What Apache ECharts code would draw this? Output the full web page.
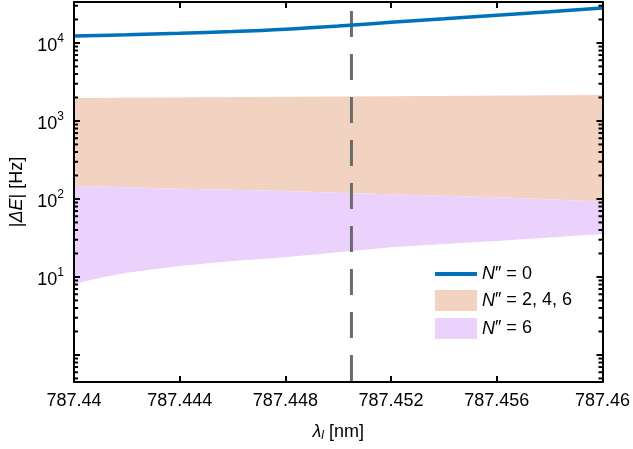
<!DOCTYPE html>
<html>
<head>
<meta charset="utf-8">
<script src="https://cdn.jsdelivr.net/npm/echarts@6/dist/echarts.min.js"></script>
<style>
  html, body { margin: 0; padding: 0; background: #fff; }
  #chart { width: 633px; height: 449px; }
</style>
</head>
<body>
<div id="chart"></div>
<script>
// wavelength axis (nm)
var xMin = 787.44, xMax = 787.46, xStep = 0.004;
var yMin = 0.45, yMax = 33500;

// N'' = 0 line
var lineX = [787.44, 787.442, 787.444, 787.446, 787.448, 787.450, 787.452, 787.454, 787.456, 787.458, 787.46];
var lineY = [12300, 12750, 13300, 14000, 15000, 16500, 18400, 20400, 22700, 25200, 28100];

// N'' = 2, 4, 6 band (upper edge)
var orangeX = [787.44, 787.45, 787.46];
var orangeTop = [1970, 2060, 2155];

// N'' = 6 band
var purpleX = [787.44, 787.441, 787.442, 787.444, 787.446, 787.448, 787.450, 787.452, 787.454, 787.456, 787.458, 787.46];
var purpleTop = [147, 144, 141, 135.5, 131, 126.6, 120, 114.8, 110, 105, 99, 92.3];
var purpleBottom = [8.1, 9.8, 11.3, 13.8, 16.0, 17.9, 20.8, 24, 26.5, 28.9, 32, 35.6];

// vertical marker
var markerX = 787.4505;

var seriesNames = ["N\u2033 = 0", "N\u2033 = 2, 4, 6", "N\u2033 = 6"];

var fontFam = "Liberation Sans, Arial, Helvetica, sans-serif";

// log minor tick positions (2..9 x 10^k)
var minorVals = [];
for (var k = -1; k <= 4; k++) {
    for (var m = 2; m <= 9; m++) {
        var v = m * Math.pow(10, k);
        if (v > yMin && v < yMax) minorVals.push(v);
    }
}

function bandRenderer(upX, upY, lowX, lowY, color) {
    return function (params, api) {
        if (params.dataIndex !== 0) return null;
        var pts = [];
        for (var i = 0; i < upX.length; i++) pts.push(api.coord([upX[i], upY[i]]));
        for (var j = lowX.length - 1; j >= 0; j--) pts.push(api.coord([lowX[j], lowY[j]]));
        return { type: "polygon", shape: { points: pts }, style: { fill: color } };
    };
}

function renderMinor(params, api) {
    var cs = params.coordSys;
    var y = api.coord([xMin, api.value(1)])[1];
    return {
        type: "group",
        children: [
            { type: "line", shape: { x1: cs.x, y1: y, x2: cs.x + 4, y2: y }, style: { stroke: "#000", lineWidth: 2 } },
            { type: "line", shape: { x1: cs.x + cs.width, y1: y, x2: cs.x + cs.width - 4, y2: y }, style: { stroke: "#000", lineWidth: 2 } }
        ]
    };
}

function yLabel(v) {
    var p = Math.log10(v);
    var r = Math.round(p);
    if (Math.abs(p - r) > 1e-6 || r < 1 || r > 4) return "";
    return "{b|10}{s|" + r + "}";
}

var chart = echarts.init(document.getElementById("chart"));

var axisCommon = {
    axisLine: { show: true, onZero: false, lineStyle: { color: "#000", width: 2 } },
    axisTick: { show: true, inside: true, length: 6, lineStyle: { color: "#000", width: 2 } },
    splitLine: { show: false },
    z: 10
};

var option = {
    animation: false,
    backgroundColor: "#fff",
    textStyle: { fontFamily: fontFam },
    grid: { left: 68, right: 29, top: 2, bottom: 67 },
    legend: {
        left: 428,
        top: 260,
        orient: "vertical",
        itemWidth: 42,
        itemHeight: 21,
        itemGap: 7,
        data: [
            { name: seriesNames[0], itemStyle: { color: "rgba(0,0,0,0)", borderWidth: 0 }, lineStyle: { width: 4 } },
            { name: seriesNames[1], icon: "rect" },
            { name: seriesNames[2], icon: "rect" }
        ],
        formatter: function (name) {
            return "{i|N}" + name.slice(1);
        },
        textStyle: {
            color: "#000",
            fontSize: 18,
            fontFamily: fontFam,
            rich: { i: { fontStyle: "italic", fontSize: 18, fontFamily: fontFam } }
        }
    },
    xAxis: [
        Object.assign({}, axisCommon, {
            type: "value",
            min: xMin,
            max: xMax,
            interval: xStep,
            name: "{i|\u03bb}{sub|l} [nm]",
            nameLocation: "middle",
            nameGap: 40,
            nameTextStyle: {
                color: "#000",
                fontSize: 18,
                fontFamily: fontFam,
                rich: {
                    i: { fontStyle: "italic", fontSize: 18, fontFamily: fontFam },
                    sub: { fontStyle: "italic", fontSize: 12, fontFamily: fontFam, padding: [8, 0, 0, 0] }
                }
            },
            axisLabel: {
                color: "#000",
                fontSize: 18,
                margin: 10,
                formatter: function (v) { return parseFloat(v.toFixed(3)).toString(); }
            }
        }),
        Object.assign({}, axisCommon, {
            type: "value",
            position: "top",
            min: xMin,
            max: xMax,
            interval: xStep,
            axisLabel: { show: false }
        })
    ],
    yAxis: [
        Object.assign({}, axisCommon, {
            type: "log",
            logBase: 10,
            min: yMin,
            max: yMax,
            name: "|{i|\u0394E}| [Hz]",
            nameLocation: "middle",
            nameRotate: 90,
            nameGap: 48,
            nameTextStyle: {
                color: "#000",
                fontSize: 18,
                fontFamily: fontFam,
                rich: { i: { fontStyle: "italic", fontSize: 18, fontFamily: fontFam } }
            },
            axisLabel: {
                color: "#000",
                margin: 10,
                showMinLabel: false,
                showMaxLabel: false,
                formatter: yLabel,
                rich: {
                    b: { fontSize: 18, fontFamily: fontFam, color: "#000", padding: [6, 0, 0, 0] },
                    s: { fontSize: 12, fontFamily: fontFam, color: "#000", padding: [0, 0, 8, 0] }
                }
            }
        }),
        Object.assign({}, axisCommon, {
            type: "log",
            logBase: 10,
            position: "right",
            min: yMin,
            max: yMax,
            axisLabel: { show: false }
        })
    ],
    series: [
        {
            name: seriesNames[1],
            type: "custom",
            xAxisIndex: 0,
            yAxisIndex: 0,
            z: 2,
            silent: true,
            itemStyle: { color: "#F2D3C2" },
            renderItem: bandRenderer(orangeX, orangeTop, purpleX, purpleTop, "#F2D3C2"),
            data: [[orangeX[0], orangeTop[0]]]
        },
        {
            name: seriesNames[2],
            type: "custom",
            xAxisIndex: 0,
            yAxisIndex: 0,
            z: 3,
            silent: true,
            itemStyle: { color: "#EAD2FD" },
            renderItem: bandRenderer(purpleX, purpleTop, purpleX, purpleBottom, "#EAD2FD"),
            data: [[purpleX[0], purpleTop[0]]]
        },
        {
            name: "marker",
            type: "line",
            xAxisIndex: 0,
            yAxisIndex: 0,
            z: 4,
            silent: true,
            symbol: "none",
            lineStyle: { color: "#6b6b6b", width: 3, type: [26, 17], dashOffset: 42 },
            data: [[markerX, yMin], [markerX, yMax]]
        },
        {
            name: seriesNames[0],
            type: "line",
            xAxisIndex: 0,
            yAxisIndex: 0,
            z: 5,
            symbol: "none",
            showSymbol: false,
            smooth: 0.4,
            lineStyle: { color: "#0072BD", width: 3.5 },
            itemStyle: { color: "#0072BD" },
            data: lineX.map(function (x, i) { return [x, lineY[i]]; })
        },
        {
            name: "minorTicks",
            type: "custom",
            z: 11,
            silent: true,
            renderItem: renderMinor,
            data: minorVals.map(function (v) { return [xMin, v]; })
        }
    ]
};

chart.setOption(option);
</script>
</body>
</html>
